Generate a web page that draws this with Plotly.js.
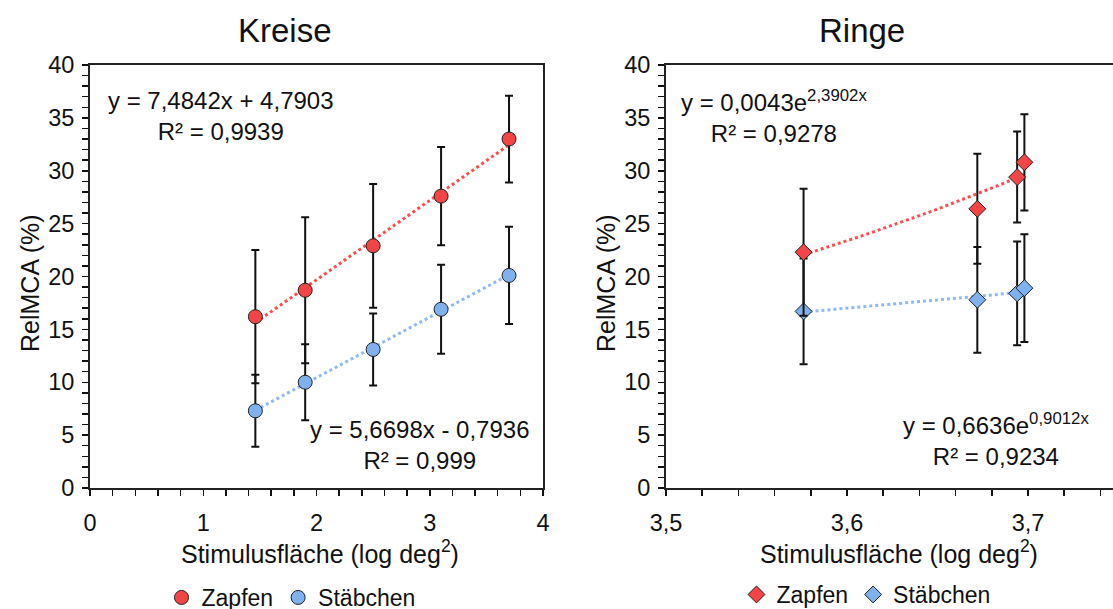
<!DOCTYPE html>
<html><head><meta charset="utf-8">
<script src="https://cdn.plot.ly/plotly-3.0.1.min.js"></script>
<style>html,body{margin:0;padding:0;overflow:hidden;background:#fff}#chart{width:1130px;height:630px}</style>
</head><body><div id="chart"></div>
<script>
// ---- Data: Kreise ----
const kreiseX = [1.46, 1.90, 2.50, 3.10, 3.70];
const kreiseZapfen = [16.2, 18.7, 22.9, 27.6, 33.0];
const kreiseZapfenErr = [6.3, 6.9, 5.85, 4.65, 4.1];
const kreiseStaebchen = [7.3, 10.0, 13.1, 16.9, 20.1];
const kreiseStaebchenErr = [3.4, 3.6, 3.4, 4.2, 4.6];
// ---- Data: Ringe ----
const ringeX = [3.576, 3.672, 3.694, 3.698];
const ringeZapfen = [22.3, 26.4, 29.4, 30.8];
const ringeZapfenErr = [6.0, 5.2, 4.3, 4.55];
const ringeStaebchen = [16.7, 17.8, 18.4, 18.9];
const ringeStaebchenErr = [5.0, 5.0, 4.9, 5.1];
// ---- Labels ----
const seriesNames = ['Zapfen', 'Stäbchen'];
const chartTitles = ['Kreise', 'Ringe'];
const xTitle = 'Stimulusfläche (log deg<sup>2</sup>)';
const yTitle = 'RelMCA (%)';
const eqKreiseZ = 'y = 7,4842x + 4,7903<br>R² = 0,9939';
const eqKreiseS = 'y = 5,6698x - 0,7936<br>R² = 0,999';
const eqRingeZ = 'y = 0,0043e<sup>2,3902x</sup><br>R² = 0,9278';
const eqRingeS = 'y = 0,6636e<sup>0,9012x</sup><br>R² = 0,9234';

// ---- Fits (least squares, like the spreadsheet trendlines) ----
function linFit(xs, ys){
  const n = xs.length; let sx=0, sy=0, sxx=0, sxy=0;
  for(let i=0;i<n;i++){sx+=xs[i];sy+=ys[i];sxx+=xs[i]*xs[i];sxy+=xs[i]*ys[i];}
  const b=(n*sxy-sx*sy)/(n*sxx-sx*sx); const a=(sy-b*sx)/n; return {a,b};
}
function linLine(xs, ys){
  const f=linFit(xs,ys); const x0=Math.min(...xs), x1=Math.max(...xs);
  return {x:[x0,x1], y:[f.a+f.b*x0, f.a+f.b*x1]};
}
function expLine(xs, ys){
  const f=linFit(xs, ys.map(v=>Math.log(v))); const x0=Math.min(...xs), x1=Math.max(...xs);
  const X=[],Y=[]; const n=30;
  for(let i=0;i<=n;i++){const x=x0+(x1-x0)*i/n; X.push(x); Y.push(Math.exp(f.a+f.b*x));}
  return {x:X,y:Y};
}

const RED='#F34545', BLUE='#7EB1EE', REDL='#FF4B4B', BLUEL='#8DBBF1';
const FONT='Liberation Sans, Arial, sans-serif';

function trend(line, color, xa, ya){
  return {x:line.x, y:line.y, mode:'lines', xaxis:xa, yaxis:ya, showlegend:false, hoverinfo:'skip',
    line:{color:color, width:3, dash:'dot'}};
}
function pts(xs, ys, err, name, color, symbol, size, xa, ya, leg){
  return {x:xs, y:ys, mode:'markers', name:name, xaxis:xa, yaxis:ya, legend:leg,
    marker:{color:color, symbol:symbol, size:size, line:{color:'#222', width:1}},
    error_y:{type:'data', array:err, visible:true, color:'#111', thickness:2, width:4}};
}

const traces = [
  trend(linLine(kreiseX,kreiseZapfen), REDL, 'x','y'),
  trend(linLine(kreiseX,kreiseStaebchen), BLUEL, 'x','y'),
  pts(kreiseX, kreiseStaebchen, kreiseStaebchenErr, seriesNames[1], BLUE, 'circle', 14, 'x','y','legend'),
  pts(kreiseX, kreiseZapfen, kreiseZapfenErr, seriesNames[0], RED, 'circle', 14, 'x','y','legend'),
  trend(expLine(ringeX,ringeZapfen), REDL, 'x2','y2'),
  trend(expLine(ringeX,ringeStaebchen), BLUEL, 'x2','y2'),
  pts(ringeX, ringeStaebchen, ringeStaebchenErr, seriesNames[1], BLUE, 'diamond', 13, 'x2','y2','legend2'),
  pts(ringeX, ringeZapfen, ringeZapfenErr, seriesNames[0], RED, 'diamond', 13, 'x2','y2','legend2')
];

const W=1130, H=630;
const px = v => v/W, py = v => 1 - v/H;
const tickFont = {family:FONT, size:23.5, color:'#111'};

function xax(domain, range, dtick, minor){
  return {domain:domain, range:range, dtick:dtick, ticks:'outside', ticklen:6, tickwidth:1.5, tickcolor:'#111',
    minor:{dtick:minor, ticks:'outside', ticklen:6, tickwidth:1.5, tickcolor:'#111'}, ticklabelstandoff:7,
    showline:true, linecolor:'#222', linewidth:2, mirror:true, showgrid:false, zeroline:false, tickfont:tickFont, fixedrange:true};
}
function yax(anchor){
  return {domain:[py(488), py(65)], range:[0,40], dtick:5, anchor:anchor, ticks:'outside', ticklen:6, tickwidth:1.5, tickcolor:'#111',
    minor:{dtick:1, ticks:'outside', ticklen:6, tickwidth:1.5, tickcolor:'#111'}, ticklabelstandoff:3,
    showline:true, linecolor:'#222', linewidth:2, mirror:true, showgrid:false, zeroline:false, tickfont:tickFont, fixedrange:true};
}

function ann(text, x, y, size, extra){
  return Object.assign({text:text, x:x, y:y, xref:'paper', yref:'paper', showarrow:false, xanchor:'center', yanchor:'middle',
    align:'center', font:{family:FONT, size:size, color:'#111'}}, extra||{});
}

const layout = {
  width:W, height:H, margin:{l:0,r:0,t:0,b:0}, paper_bgcolor:'#fff', plot_bgcolor:'#fff',
  separators:', ', font:{family:FONT, color:'#111'},
  xaxis: Object.assign(xax([px(90),px(543)],[0,4],1,0.2), {anchor:'y'}),
  yaxis: yax('x'),
  xaxis2: Object.assign(xax([px(666),px(1118.5)],[3.5,3.75],0.1,0.02), {anchor:'y2'}),
  yaxis2: yax('x2'),
  legend:{orientation:'h', x:px(291), y:py(619), xanchor:'center', yanchor:'bottom', font:{family:FONT,size:23,color:'#111'}, traceorder:'reversed', bgcolor:'rgba(0,0,0,0)'},
  legend2:{orientation:'h', x:px(866), y:py(616), xanchor:'center', yanchor:'bottom', font:{family:FONT,size:23,color:'#111'}, traceorder:'reversed', bgcolor:'rgba(0,0,0,0)'},
  annotations:[
    ann(chartTitles[0], px(285), py(30), 33),
    ann(chartTitles[1], px(862), py(30), 33),
    ann(xTitle, px(320), py(552), 25),
    ann(xTitle, px(899), py(552), 25),
    ann(yTitle, px(30), py(283), 25, {textangle:-90}),
    ann(yTitle, px(606), py(283), 25, {textangle:-90}),
    ann(eqKreiseZ, px(221), py(116), 24),
    ann(eqKreiseS, px(420), py(445), 24),
    ann(eqRingeZ, px(774), py(116), 24),
    ann(eqRingeS, px(996), py(439), 24)
  ]
};

Plotly.newPlot('chart', traces, layout, {staticPlot:true, displayModeBar:false});
</script>
</body></html>
